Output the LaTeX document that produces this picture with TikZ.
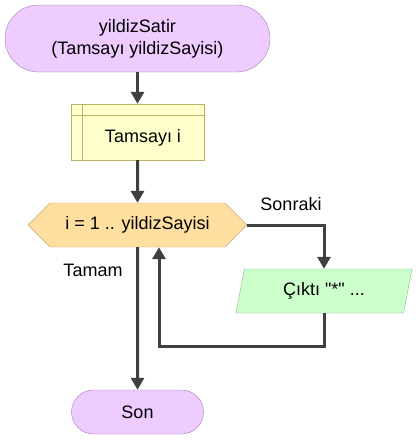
\documentclass[tikz,border=0pt]{standalone}
\usepackage{fontspec}
\setmainfont{Liberation Sans}
\usetikzlibrary{arrows.meta,positioning,shapes.geometric,shapes.symbols}
\definecolor{termfill}{HTML}{EECCFF}
\definecolor{termdraw}{HTML}{A080BC}
\definecolor{declfill}{HTML}{FFFFCC}
\definecolor{decldraw}{HTML}{BBB06A}
\definecolor{loopfill}{HTML}{FFDF9F}
\definecolor{loopdraw}{HTML}{C8AA78}
\definecolor{outfill}{HTML}{CCFFCC}
\definecolor{outdraw}{HTML}{80C080}
\definecolor{arrowgray}{HTML}{404040}

\begin{document}
\begin{tikzpicture}[x=1pt,y=-1pt,
every node/.style={font=\fontsize{18}{22}\selectfont, inner sep=0pt},
flow/.style={draw=arrowgray, line width=3pt, -{Triangle[length=12pt,width=13pt]}},
terminal/.style={draw=termdraw, fill=termfill, rounded corners=22pt, minimum width=132pt, minimum height=44pt},
declbox/.style={draw=decldraw, fill=declfill, minimum width=133pt, minimum height=56pt},
loopbox/.style={draw=loopdraw, fill=loopfill, signal, signal to=west and east, signal pointer angle=90, minimum width=219pt, minimum height=44pt},
outbox/.style={draw=outdraw, fill=outfill, trapezium, trapezium left angle=63.4, trapezium right angle=116.6, trapezium stretches body, minimum width=176pt, minimum height=44pt}]
\useasboundingbox (0,0) rectangle (418,440);
\node[terminal, rounded corners=33.5pt, minimum width=265pt, minimum height=67pt, align=center] (start) at (137.5,38.5) {yildizSatir\\(Tamsayı yildizSayisi)};
\node[declbox] (decl) at (137.5,132) {};
\draw[decldraw] ([xshift=11pt]decl.north west) -- ([xshift=11pt]decl.south west);
\draw[decldraw] ([yshift=-11pt]decl.north west) -- ([yshift=-11pt]decl.north east);
\node (decltext) at (143,138) {Tamsayı i};
\node[loopbox] (loop) at (137.5,225) {i = 1 .. yildizSayisi};
\node[outbox] (out) at (324,291) {Çıktı \textquotedbl*\textquotedbl{} ...};
\node[terminal] (stop) at (137.5,412) {Son};
\node (next) at (291,204) {Sonraki};
\node (done) at (93,270) {Tamam};
\coordinate (back) at (159,346);
\draw[flow] (start) -- (decl);
\draw[flow] (decl) -- (loop);
\draw[flow] (loop.east) -| (out.north);
\draw[flow] (out.south) |- (back) -- (back |- loop.south);
\draw[flow] (loop) -- (stop);
\end{tikzpicture}
\end{document}
